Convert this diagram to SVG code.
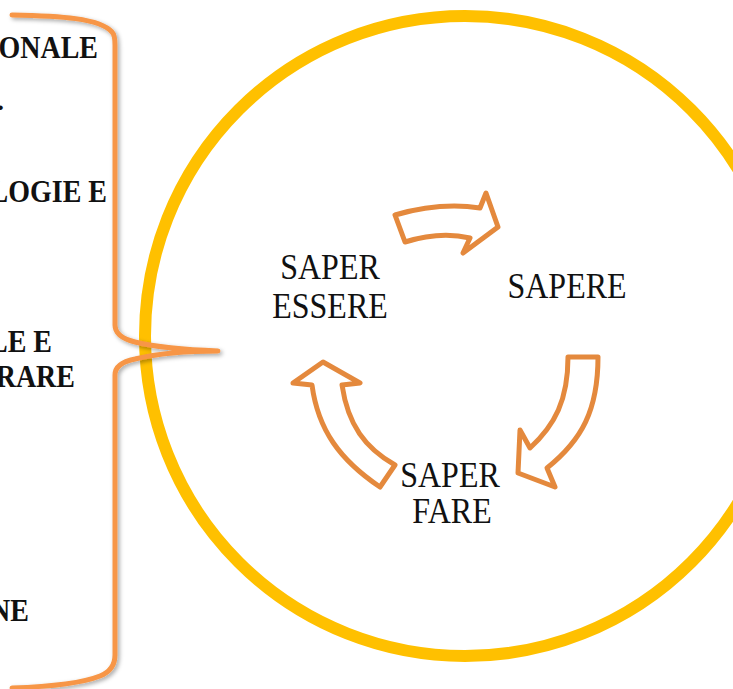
<svg xmlns="http://www.w3.org/2000/svg" width="733" height="689" viewBox="0 0 733 689">
<defs>
<style>
.lt{font-family:"Liberation Serif","DejaVu Serif",serif;font-weight:bold;font-size:28px;fill:#111;text-anchor:end}
.ct{font-family:"Liberation Serif","DejaVu Serif",serif;font-size:32px;fill:#111;text-anchor:middle}
.arr{fill:#fff;stroke:#E4893D;stroke-width:5;stroke-linejoin:round}
</style>
<filter id="sh" x="-20%" y="-5%" width="140%" height="110%">
<feDropShadow dx="2" dy="2" stdDeviation="2" flood-color="#000" flood-opacity="0.35"/>
</filter>
</defs>
<rect width="733" height="689" fill="#fff"/>
<g id="left-text">
<text class="lt" transform="translate(98,58) scale(1,1.12)">ONALE</text>
<text class="lt" transform="translate(4,110)">.</text>
<text class="lt" transform="translate(107,202) scale(1,1.12)">LOGIE E</text>
<text class="lt" transform="translate(52,352) scale(1,1.12)">LE E</text>
<text class="lt" transform="translate(75,387) scale(1,1.12)">RARE</text>
<text class="lt" transform="translate(29,621) scale(1,1.12)">NE</text>
</g>
<g id="circle">
<circle cx="465" cy="336" r="320" fill="none" stroke="#FFC000" stroke-width="12"/>
</g>
<g id="brace">
<path d="M12,15 C60,16 100,18 112,32 Q115,35 115,45 L115,325 Q115,337 135,342 C160,348 190,350 218,351 C190,351 160,353 135,359 Q115,363 115,375 L115,655 Q115,670 100,676 C80,684 40,687 12,688" fill="none" stroke="#F79646" stroke-width="5" stroke-linecap="round" stroke-linejoin="round" filter="url(#sh)"/>
</g>
<g id="connectors">
<path class="arr" d="M395,215 Q440,202 480,208 L486,193 L498,227 L463,253 L470,238 Q440,231 405,242 Z"/>
<path class="arr" d="M568,357 L598,357 C598,410 582,440 547,468 L555,487 L518,473 L520,430 L530,448 C555,425 568,400 568,357 Z"/>
<path class="arr" d="M323,362 L360,383 L342,385 C348,425 365,448 395,465 L380,487 C340,460 318,430 312,385 L293,383 Z"/>
</g>
<g id="node-saper-essere">
<text class="ct" transform="translate(330,279) scale(1,1.15)">SAPER</text>
<text class="ct" transform="translate(330,318) scale(1,1.15)">ESSERE</text>
</g>
<g id="node-sapere">
<text class="ct" transform="translate(567,298) scale(1,1.15)">SAPERE</text>
</g>
<g id="node-saper-fare">
<text class="ct" transform="translate(450,487) scale(1,1.15)">SAPER</text>
<text class="ct" transform="translate(452,523) scale(1,1.15)">FARE</text>
</g>
</svg>
